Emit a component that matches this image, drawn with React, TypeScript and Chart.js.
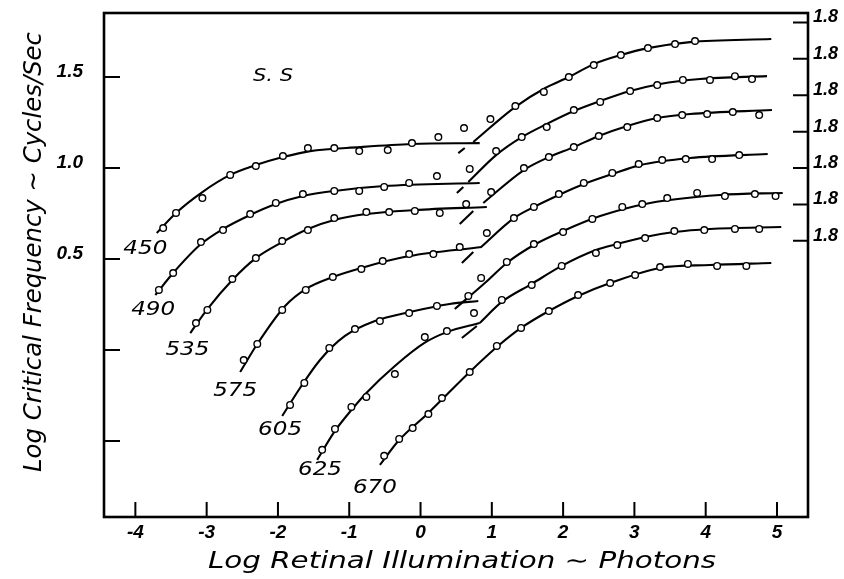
import React, { useEffect, useRef } from 'react';
import { Chart, registerables } from 'chart.js';

Chart.register(...registerables);

// ---------- axis ticks ----------
const xTickValues = [-4, -3, -2, -1, 0, 1, 2, 3, 4, 5];
const xTickLabels = ['-4', '-3', '-2', '-1', '0', '1', '2', '3', '4', '5'];
const yTickValues = [1.5, 1.0, 0.5, 0, -0.5];
const yTickLabels = ['1.5', '1.0', '0.5', '', ''];
const rightTickValues = [1.8, 1.6, 1.4, 1.2, 1.0, 0.8, 0.6];
const rightTickLabels = ['1.8', '1.8', '1.8', '1.8', '1.8', '1.8', '1.8'];

// ---------- texts ----------
const wavelengths = ['450', '490', '535', '575', '605', '625', '670'];
const subjectLabel = 'S. S';
const xTitle = 'Log Retinal Illumination \u223C Photons';
const yTitle = 'Log Critical Frequency \u223C Cycles/Sec';

// ---------- observations (log illumination, plotted log frequency) ----------
const obs450 = [[-3.61, 0.67], [-3.43, 0.753], [-3.06, 0.835], [-2.67, 0.962], [-2.31, 1.011], [-1.93, 1.066], [-1.58, 1.11], [-1.21, 1.11], [-0.86, 1.093], [-0.46, 1.099], [-0.12, 1.137], [0.25, 1.17], [0.61, 1.22], [0.98, 1.269], [1.33, 1.341], [1.73, 1.418], [2.08, 1.5], [2.43, 1.566], [2.81, 1.621], [3.19, 1.659], [3.57, 1.681], [3.85, 1.698]];
const obs490 = [[-3.67, 0.33], [-3.47, 0.423], [-3.08, 0.593], [-2.77, 0.659], [-2.39, 0.747], [-2.03, 0.808], [-1.65, 0.857], [-1.21, 0.874], [-0.86, 0.874], [-0.51, 0.896], [-0.16, 0.918], [0.23, 0.956], [0.69, 0.995], [1.06, 1.093], [1.42, 1.17], [1.77, 1.225], [2.15, 1.319], [2.52, 1.363], [2.94, 1.423], [3.32, 1.456], [3.68, 1.484], [4.06, 1.484], [4.41, 1.505], [4.65, 1.489]];
const obs535 = [[-3.15, 0.148], [-2.99, 0.22], [-2.64, 0.39], [-2.31, 0.505], [-1.94, 0.599], [-1.58, 0.659], [-1.21, 0.725], [-0.76, 0.758], [-0.44, 0.758], [-0.08, 0.764], [0.27, 0.753], [0.64, 0.802], [0.99, 0.868], [1.45, 1.0], [1.8, 1.06], [2.15, 1.115], [2.5, 1.176], [2.9, 1.225], [3.32, 1.275], [3.67, 1.291], [4.02, 1.297], [4.38, 1.308], [4.75, 1.291]];
const obs575 = [[-2.48, -0.055], [-2.29, 0.033], [-1.94, 0.22], [-1.61, 0.33], [-1.23, 0.401], [-0.83, 0.445], [-0.53, 0.489], [-0.16, 0.527], [0.18, 0.527], [0.55, 0.566], [0.93, 0.643], [1.31, 0.725], [1.59, 0.786], [1.94, 0.857], [2.29, 0.918], [2.69, 0.973], [3.06, 1.022], [3.39, 1.044], [3.72, 1.049], [4.09, 1.049], [4.47, 1.071]];
const obs605 = [[-1.83, -0.302], [-1.63, -0.181], [-1.28, 0.011], [-0.92, 0.115], [-0.57, 0.159], [-0.16, 0.203], [0.23, 0.242], [0.67, 0.297], [0.75, 0.203], [0.85, 0.396], [1.21, 0.484], [1.59, 0.582], [2.0, 0.648], [2.41, 0.72], [2.83, 0.786], [3.11, 0.802], [3.46, 0.835], [3.88, 0.863], [4.27, 0.846], [4.69, 0.857], [4.98, 0.846]];
const obs625 = [[-1.38, -0.549], [-1.2, -0.434], [-0.97, -0.313], [-0.76, -0.258], [-0.36, -0.132], [0.06, 0.071], [0.37, 0.104], [1.14, 0.275], [1.56, 0.357], [1.98, 0.462], [2.46, 0.533], [2.76, 0.577], [3.15, 0.615], [3.56, 0.654], [3.98, 0.659], [4.41, 0.665], [4.75, 0.665]];
const obs670 = [[-0.51, -0.582], [-0.3, -0.489], [-0.11, -0.429], [0.11, -0.352], [0.3, -0.264], [0.69, -0.121], [1.07, 0.022], [1.41, 0.121], [1.8, 0.214], [2.21, 0.302], [2.66, 0.368], [3.01, 0.412], [3.36, 0.456], [3.75, 0.473], [4.16, 0.462], [4.57, 0.462]];

// ---------- fitted curves: rod branch, cone branch, extrapolation dash ----------
const rod450 = [[-3.7, 0.643], [-3.43, 0.753], [-3.06, 0.868], [-2.67, 0.962], [-2.31, 1.016], [-1.93, 1.06], [-1.55, 1.093], [-0.85, 1.115], [-0.12, 1.132], [0.83, 1.137]];
const cone450 = [[0.74, 1.143], [1.325, 1.335], [1.75, 1.44], [2.08, 1.5], [2.43, 1.571], [2.81, 1.621], [3.19, 1.659], [3.78, 1.692], [4.92, 1.709]];
const dash450 = [[0.53, 1.082], [0.62, 1.11]];

const rod490 = [[-3.72, 0.302], [-3.47, 0.423], [-3.08, 0.582], [-2.77, 0.665], [-2.39, 0.742], [-2.03, 0.802], [-1.65, 0.846], [-1.21, 0.874], [-0.51, 0.901], [0.83, 0.918]];
const cone490 = [[0.67, 0.923], [1.06, 1.071], [1.42, 1.17], [1.77, 1.242], [2.15, 1.313], [2.52, 1.368], [2.94, 1.423], [3.36, 1.462], [3.92, 1.489], [4.86, 1.505]];
const dash490 = [[0.51, 0.863], [0.6, 0.896]];

const rod535 = [[-3.23, 0.093], [-2.99, 0.225], [-2.64, 0.385], [-2.31, 0.505], [-1.94, 0.593], [-1.58, 0.665], [-1.21, 0.714], [-0.76, 0.747], [-0.08, 0.769], [0.93, 0.786]];
const cone535 = [[0.88, 0.808], [1.45, 0.989], [1.8, 1.06], [2.15, 1.115], [2.5, 1.176], [2.9, 1.231], [3.32, 1.275], [3.78, 1.297], [4.93, 1.319]];
const dash535 = [[0.55, 0.692], [0.74, 0.764]];

const rod575 = [[-2.53, -0.121], [-2.29, 0.033], [-1.9, 0.242], [-1.61, 0.335], [-1.23, 0.401], [-0.83, 0.451], [-0.16, 0.516], [0.86, 0.566]];
const cone575 = [[0.85, 0.566], [1.31, 0.725], [1.59, 0.786], [1.94, 0.852], [2.29, 0.912], [2.69, 0.967], [3.08, 1.016], [3.78, 1.055], [4.87, 1.077]];
const dash575 = [[0.58, 0.478], [0.74, 0.538]];

const rod605 = [[-1.94, -0.363], [-1.69, -0.209], [-1.41, -0.055], [-1.06, 0.077], [-0.64, 0.159], [-0.15, 0.209], [0.41, 0.253], [0.81, 0.269]];
const cone605 = [[0.48, 0.225], [0.95, 0.385], [1.21, 0.478], [1.59, 0.577], [2.0, 0.654], [2.52, 0.736], [3.22, 0.808], [4.2, 0.852], [5.08, 0.863]];

const rod625 = [[-1.45, -0.604], [-1.2, -0.445], [-0.97, -0.33], [-0.76, -0.236], [-0.36, -0.088], [0.06, 0.04], [0.37, 0.098], [0.83, 0.148]];
const cone625 = [[0.83, 0.148], [1.14, 0.264], [1.56, 0.363], [1.98, 0.462], [2.46, 0.549], [2.76, 0.582], [3.15, 0.621], [3.56, 0.648], [4.06, 0.665], [5.06, 0.676]];
const dash625 = [[0.58, 0.066], [0.79, 0.132]];

const fit670 = [[-0.57, -0.632], [-0.3, -0.495], [0.11, -0.346], [0.69, -0.121], [1.07, 0.016], [1.41, 0.121], [1.8, 0.214], [2.21, 0.297], [2.66, 0.368], [3.36, 0.451], [4.06, 0.467], [4.92, 0.478]];

// label anchor points (data coordinates) for the wavelength tags
const labelAnchorX = [-3.86, -3.75, -3.27, -2.6, -1.97, -1.41, -0.64];
const labelAnchorY = [0.555, 0.22, 0.0, -0.225, -0.44, -0.66, -0.758];

const observations = [obs450, obs490, obs535, obs575, obs605, obs625, obs670];
const fittedCurves = [rod450, cone450, rod490, cone490, rod535, cone535, rod575, cone575, rod605, cone605, rod625, cone625, fit670];
const dashes = [dash450, dash490, dash535, dash575, dash625];

const X_MIN = -4.44;
const X_MAX = 5.435;
const Y_MIN = -0.918;
const Y_MAX = 1.852;

const TEXT_FONT = '"DejaVu Sans"';
const TICK_FONT = { family: '"Liberation Sans"', size: 19, style: 'italic' as const, weight: 'bold' as const };

function toXY(arr: number[][]) {
  return arr.map(([x, y]) => ({ x, y }));
}

function fitText(
  ctx: CanvasRenderingContext2D,
  text: string,
  cx: number,
  cy: number,
  width: number,
  size: number,
  rot = 0,
  baseline: CanvasTextBaseline = 'middle'
) {
  ctx.save();
  ctx.font = `italic normal ${size}px ${TEXT_FONT}`;
  const w = ctx.measureText(text).width;
  ctx.translate(cx, cy);
  if (rot) ctx.rotate(rot);
  ctx.scale(width / w, 1);
  ctx.textAlign = 'center';
  ctx.textBaseline = baseline;
  ctx.fillStyle = '#000';
  ctx.fillText(text, 0, 0);
  ctx.restore();
}

function zeroPadding(axis: any) {
  axis.paddingTop = 0;
  axis.paddingBottom = 0;
  axis.paddingLeft = 0;
  axis.paddingRight = 0;
}

const decorPlugin = {
  id: 'decor',
  afterDatasetsDraw(chart: any) {
    const { ctx, chartArea: a, scales } = chart;
    const xs = scales.x;
    const ys = scales.y;
    const y2 = scales.y2;
    ctx.save();
    ctx.strokeStyle = '#000';
    ctx.lineWidth = 2.6;
    ctx.strokeRect(a.left, a.top, a.right - a.left, a.bottom - a.top);

    ctx.lineWidth = 2;
    ctx.beginPath();
    for (const v of yTickValues) {
      const p = ys.getPixelForValue(v);
      ctx.moveTo(a.left, p);
      ctx.lineTo(a.left + 16, p);
    }
    for (const v of xTickValues) {
      const p = xs.getPixelForValue(v);
      ctx.moveTo(p, a.bottom);
      ctx.lineTo(p, a.bottom - 15);
    }
    for (const v of rightTickValues) {
      const p = y2.getPixelForValue(v);
      ctx.moveTo(a.right, p);
      ctx.lineTo(a.right - 15, p);
    }
    ctx.stroke();
    ctx.restore();

    // wavelength labels
    wavelengths.forEach((w, i) => {
      const px = xs.getPixelForValue(labelAnchorX[i]);
      const py = ys.getPixelForValue(labelAnchorY[i]);
      fitText(ctx, w, px, py, 44, 19);
    });
    // subject
    fitText(ctx, subjectLabel, xs.getPixelForValue(-2.07), ys.getPixelForValue(1.5), 40, 17);
    // axis titles
    const cxTitle = (a.left + a.right) / 2 + 6;
    fitText(ctx, xTitle, cxTitle, 568, 508, 23, 0, 'alphabetic');
    const cyTitle = (a.top + a.bottom) / 2 - 13;
    fitText(ctx, yTitle, 41, cyTitle, 440, 25, -Math.PI / 2, 'alphabetic');
  },
};

export default function App() {
  const canvasRef = useRef<HTMLCanvasElement | null>(null);

  useEffect(() => {
    const canvas = canvasRef.current;
    if (!canvas) return;

    const datasets: any[] = [];
    observations.forEach((obs, i) => {
      datasets.push({
        type: 'scatter',
        label: wavelengths[i],
        data: toXY(obs),
        pointRadius: 3.3,
        pointBorderWidth: 1.4,
        pointBackgroundColor: '#ffffff',
        pointBorderColor: '#000000',
        showLine: false,
        order: 0,
      });
    });
    fittedCurves.forEach((c) => {
      datasets.push({
        type: 'line',
        data: toXY(c),
        borderColor: '#000000',
        borderWidth: 2.1,
        pointRadius: 0,
        fill: false,
        cubicInterpolationMode: 'monotone',
        order: 1,
      });
    });
    dashes.forEach((d) => {
      datasets.push({
        type: 'line',
        data: toXY(d),
        borderColor: '#000000',
        borderWidth: 2.1,
        pointRadius: 0,
        fill: false,
        order: 1,
      });
    });

    const chart = new Chart(canvas, {
      type: 'scatter',
      data: { datasets },
      options: {
        animation: false,
        responsive: false,
        maintainAspectRatio: false,
        layout: { padding: { top: 13, left: 0, right: 0, bottom: 0 } },
        plugins: { legend: { display: false }, tooltip: { enabled: false }, title: { display: false } },
        scales: {
          x: {
            type: 'linear',
            position: 'bottom',
            min: X_MIN,
            max: X_MAX,
            grid: { display: false, drawTicks: false },
            border: { display: false },
            afterBuildTicks: (axis: any) => {
              axis.ticks = xTickValues.map((v) => ({ value: v }));
            },
            afterFit: (axis: any) => {
              axis.height = 62;
              zeroPadding(axis);
            },
            ticks: {
              autoSkip: false,
              maxRotation: 0,
              padding: 4,
              color: '#000',
              font: TICK_FONT,
              callback: (v: any) => xTickLabels[xTickValues.indexOf(Number(v))] ?? '',
            },
          },
          y: {
            type: 'linear',
            position: 'left',
            min: Y_MIN,
            max: Y_MAX,
            grid: { display: false, drawTicks: false },
            border: { display: false },
            afterBuildTicks: (axis: any) => {
              axis.ticks = yTickValues.map((v) => ({ value: v }));
            },
            afterFit: (axis: any) => {
              axis.width = 104;
              zeroPadding(axis);
            },
            ticks: {
              autoSkip: false,
              padding: 21,
              labelOffset: -5,
              color: '#000',
              font: TICK_FONT,
              callback: (v: any) => yTickLabels[yTickValues.indexOf(Number(v))] ?? '',
            },
          },
          y2: {
            type: 'linear',
            position: 'right',
            min: Y_MIN,
            max: Y_MAX,
            grid: { display: false, drawTicks: false },
            border: { display: false },
            afterBuildTicks: (axis: any) => {
              axis.ticks = rightTickValues.map((v) => ({ value: v }));
            },
            afterFit: (axis: any) => {
              axis.width = 36;
              zeroPadding(axis);
            },
            ticks: {
              autoSkip: false,
              padding: 5,
              labelOffset: -5,
              color: '#000',
              font: { ...TICK_FONT, size: 18 },
              callback: (v: any) => rightTickLabels[rightTickValues.indexOf(Number(v))] ?? '',
            },
          },
        },
      },
      plugins: [decorPlugin],
    } as any);

    return () => {
      chart.destroy();
    };
  }, []);

  return (
    <div style={{ position: 'absolute', left: 0, top: 0, width: 844, height: 579, background: '#fff' }}>
      <canvas ref={canvasRef} width={844} height={579} style={{ display: 'block', width: 844, height: 579 }} />
    </div>
  );
}
